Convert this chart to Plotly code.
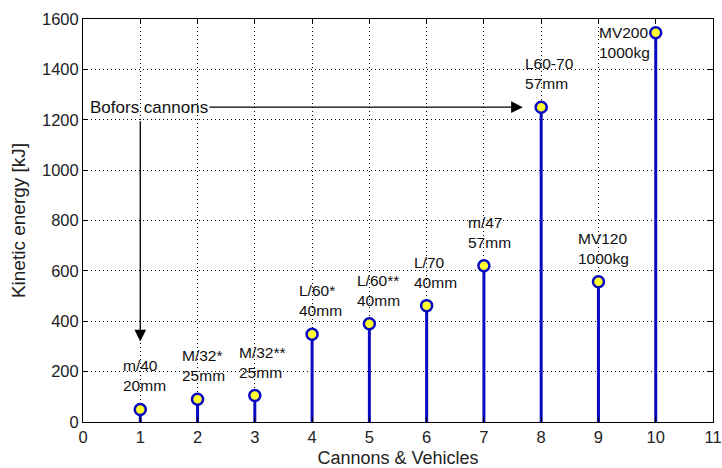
import plotly.graph_objects as go

# Kinetic energy of cannon projectiles and vehicles
positions = [1, 2, 3, 4, 5, 6, 7, 8, 9, 10]
energy_kj = [50, 90, 105, 348, 390, 462, 620, 1250, 557, 1545]
names = ["m/40", "M/32*", "M/32**", "L/60*", "L/60**", "L/70", "m/47", "L60-70", "MV120", "MV200"]
sizes = ["20mm", "25mm", "25mm", "40mm", "40mm", "40mm", "57mm", "57mm", "1000kg", "1000kg"]

x_ticks = list(range(0, 12))
y_ticks = list(range(0, 1601, 200))

# label placement (horizontal offset in axis units, vertical anchor)
label_dx = [-0.34, -0.31, -0.31, -0.26, -0.25, -0.26, -0.31, -0.31, -0.39, -1.03]
label_side = ["above"] * 9 + ["beside"]

FONT = "Arial, Liberation Sans, Helvetica, sans-serif"
BLUE = "#0a0ac0"

# stem lines from the baseline up to each value
stem_x, stem_y = [], []
for xi, vi in zip(positions, energy_kj):
    stem_x += [xi, xi, None]
    stem_y += [0, vi, None]

fig = go.Figure()
fig.add_trace(go.Scatter(x=stem_x, y=stem_y, mode="lines",
                         line=dict(color=BLUE, width=3), hoverinfo="skip",
                         showlegend=False))
fig.add_trace(go.Scatter(x=positions, y=energy_kj, mode="markers",
                         marker=dict(symbol="circle", size=11, color="#ffff30",
                                     line=dict(color=BLUE, width=2.5)),
                         showlegend=False))

annotations = []
for xi, vi, n, s, dx, side in zip(positions, energy_kj, names, sizes, label_dx, label_side):
    if side == "above":
        annotations.append(dict(x=xi + dx, y=vi, xref="x", yref="y",
                                text=f"{n}<br>{s}", showarrow=False,
                                xanchor="left", yanchor="bottom", align="left",
                                yshift=13, font=dict(family=FONT, size=15.5, color="#111")))
    else:
        annotations.append(dict(x=xi + dx, y=vi, xref="x", yref="y",
                                text=f"{n}<br>{s}", showarrow=False,
                                xanchor="left", yanchor="top", align="left",
                                yshift=11, font=dict(family=FONT, size=15.5, color="#111")))

# "Bofors cannons" callout with arrows
annotations.append(dict(x=7.68, y=1250, xref="x", yref="y", ax=1.15, ay=1250,
                        axref="x", ayref="y", text="Bofors cannons",
                        showarrow=True, arrowhead=2, arrowsize=1.8, arrowwidth=1.3,
                        arrowcolor="#000", font=dict(family=FONT, size=17, color="#111")))
annotations.append(dict(x=1, y=320, xref="x", yref="y", ax=1, ay=1200,
                        axref="x", ayref="y", text="",
                        showarrow=True, arrowhead=2, arrowsize=1.8, arrowwidth=1.3,
                        arrowcolor="#000"))

axis_common = dict(showline=True, linecolor="#000", linewidth=1, mirror="ticks",
                   ticks="inside", ticklen=5, tickcolor="#000", automargin=False,
                   showgrid=True, gridcolor="#000", gridwidth=1, griddash="1px,3px",
                   zeroline=False, tickfont=dict(family=FONT, size=16.5, color="#222"))

fig.update_layout(
    width=722, height=468,
    margin=dict(l=83, r=9, t=19, b=46),
    paper_bgcolor="white", plot_bgcolor="white",
    xaxis=dict(range=[0, 11], tickvals=x_ticks, ticktext=[str(t) for t in x_ticks],
               title=dict(text="Cannons & Vehicles", standoff=9,
                          font=dict(family=FONT, size=18, color="#222")),
               **axis_common),
    yaxis=dict(range=[0, 1600], tickvals=y_ticks, ticktext=[str(t) for t in y_ticks],
               title=dict(text="Kinetic energy [kJ]", standoff=11,
                          font=dict(family=FONT, size=19, color="#222")),
               **axis_common),
    annotations=annotations,
    showlegend=False,
)

fig.write_html("out.html")
